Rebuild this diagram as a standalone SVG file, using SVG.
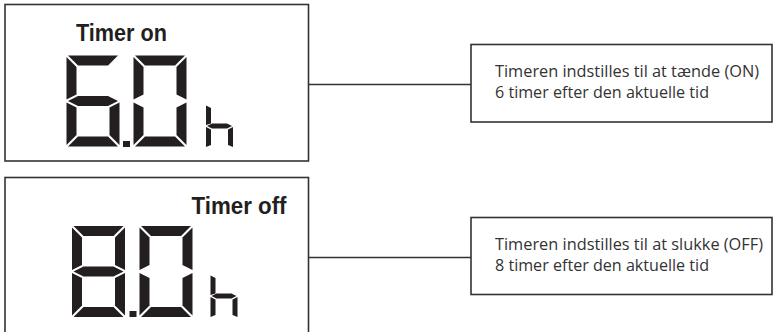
<svg xmlns="http://www.w3.org/2000/svg" xmlns:xlink="http://www.w3.org/1999/xlink" width="774" height="332" viewBox="0 0 774 332">
  <style>
    .box { fill: #ffffff; stroke: #333333; stroke-width: 1.6; }
    .conn { stroke: #333333; stroke-width: 1.6; fill: none; }
    .seg { fill: #231f20; }
    .title { font-family: "Liberation Sans", Arial, sans-serif; font-weight: bold; font-size: 24px; fill: #231f20; }
    .desc { font-family: "Open Sans", "Liberation Sans", sans-serif; font-weight: 400; font-size: 16px; fill: #333333; }
  </style>
  <defs>
    <polygon id="sa" points="1.5,0 51.5,0 41.5,10 11.5,10"/>
    <polygon id="sd" points="1.5,91 51.5,91 41.5,81 11.5,81"/>
    <polygon id="sf" points="0,1.5 10,11.5 10,39 0,44"/>
    <polygon id="se" points="0,47 10,52 10,79.5 0,89.5"/>
    <polygon id="sb" points="53,1.5 43,11.5 43,39 53,44"/>
    <polygon id="sc" points="53,47 43,52 43,79.5 53,89.5"/>
    <polygon id="sg" points="1.5,45.5 11.5,40.5 41.5,40.5 51.5,45.5 41.5,50.5 11.5,50.5"/>
    <g id="hglyph">
      <polygon points="0,0.5 5,3 5,18.5 0,20"/>
      <polygon points="1,21 6,18.5 21,18.5 26,21 21,23.5 6,23.5"/>
      <polygon points="0,22 5,24.5 5,40 0,42"/>
      <polygon points="27,22 22,24.5 22,40 27,42"/>
    </g>
  </defs>

  <g id="connectors">
    <line class="conn" x1="308.5" y1="84.5" x2="471" y2="84.5"/>
    <line class="conn" x1="308.5" y1="257.5" x2="471" y2="257.5"/>
  </g>

  <g id="display-timer-on">
    <rect class="box" x="5" y="4.5" width="303.5" height="156.5"/>
    <text class="title" x="76" y="40.5" textLength="91" lengthAdjust="spacingAndGlyphs">Timer on</text>
    <g class="seg" transform="translate(66.5,55.5)">
      <use xlink:href="#sa"/><use xlink:href="#sf"/><use xlink:href="#sg"/>
      <use xlink:href="#se"/><use xlink:href="#sd"/><use xlink:href="#sc"/>
    </g>
    <rect class="seg" x="123" y="141" width="7" height="6"/>
    <g class="seg" transform="translate(133.5,55.5)">
      <use xlink:href="#sa"/><use xlink:href="#sb"/><use xlink:href="#sc"/>
      <use xlink:href="#sd"/><use xlink:href="#se"/><use xlink:href="#sf"/>
    </g>
    <use class="seg" xlink:href="#hglyph" transform="translate(206,105)"/>
  </g>

  <g id="desc-timer-on">
    <rect class="box" x="471" y="44.5" width="301" height="77.5"/>
    <text class="desc" x="495" y="76.5" textLength="264" lengthAdjust="spacingAndGlyphs">Timeren indstilles til at tænde (ON)</text>
    <text class="desc" x="495" y="97.5" textLength="214" lengthAdjust="spacingAndGlyphs">6 timer efter den aktuelle tid</text>
  </g>

  <g id="display-timer-off">
    <rect class="box" x="5" y="177.5" width="303.5" height="160"/>
    <text class="title" x="191.5" y="214" textLength="95" lengthAdjust="spacingAndGlyphs">Timer off</text>
    <g class="seg" transform="translate(72,226)">
      <use xlink:href="#sa"/><use xlink:href="#sb"/><use xlink:href="#sc"/><use xlink:href="#sd"/>
      <use xlink:href="#se"/><use xlink:href="#sf"/><use xlink:href="#sg"/>
    </g>
    <rect class="seg" x="129.5" y="311" width="7" height="6"/>
    <g class="seg" transform="translate(139.5,226)">
      <use xlink:href="#sa"/><use xlink:href="#sb"/><use xlink:href="#sc"/>
      <use xlink:href="#sd"/><use xlink:href="#se"/><use xlink:href="#sf"/>
    </g>
    <use class="seg" xlink:href="#hglyph" transform="translate(210.5,275)"/>
  </g>

  <g id="desc-timer-off">
    <rect class="box" x="471" y="217.5" width="301" height="77"/>
    <text class="desc" x="495" y="249.5" textLength="268" lengthAdjust="spacingAndGlyphs">Timeren indstilles til at slukke (OFF)</text>
    <text class="desc" x="495" y="270.5" textLength="214" lengthAdjust="spacingAndGlyphs">8 timer efter den aktuelle tid</text>
  </g>
</svg>
